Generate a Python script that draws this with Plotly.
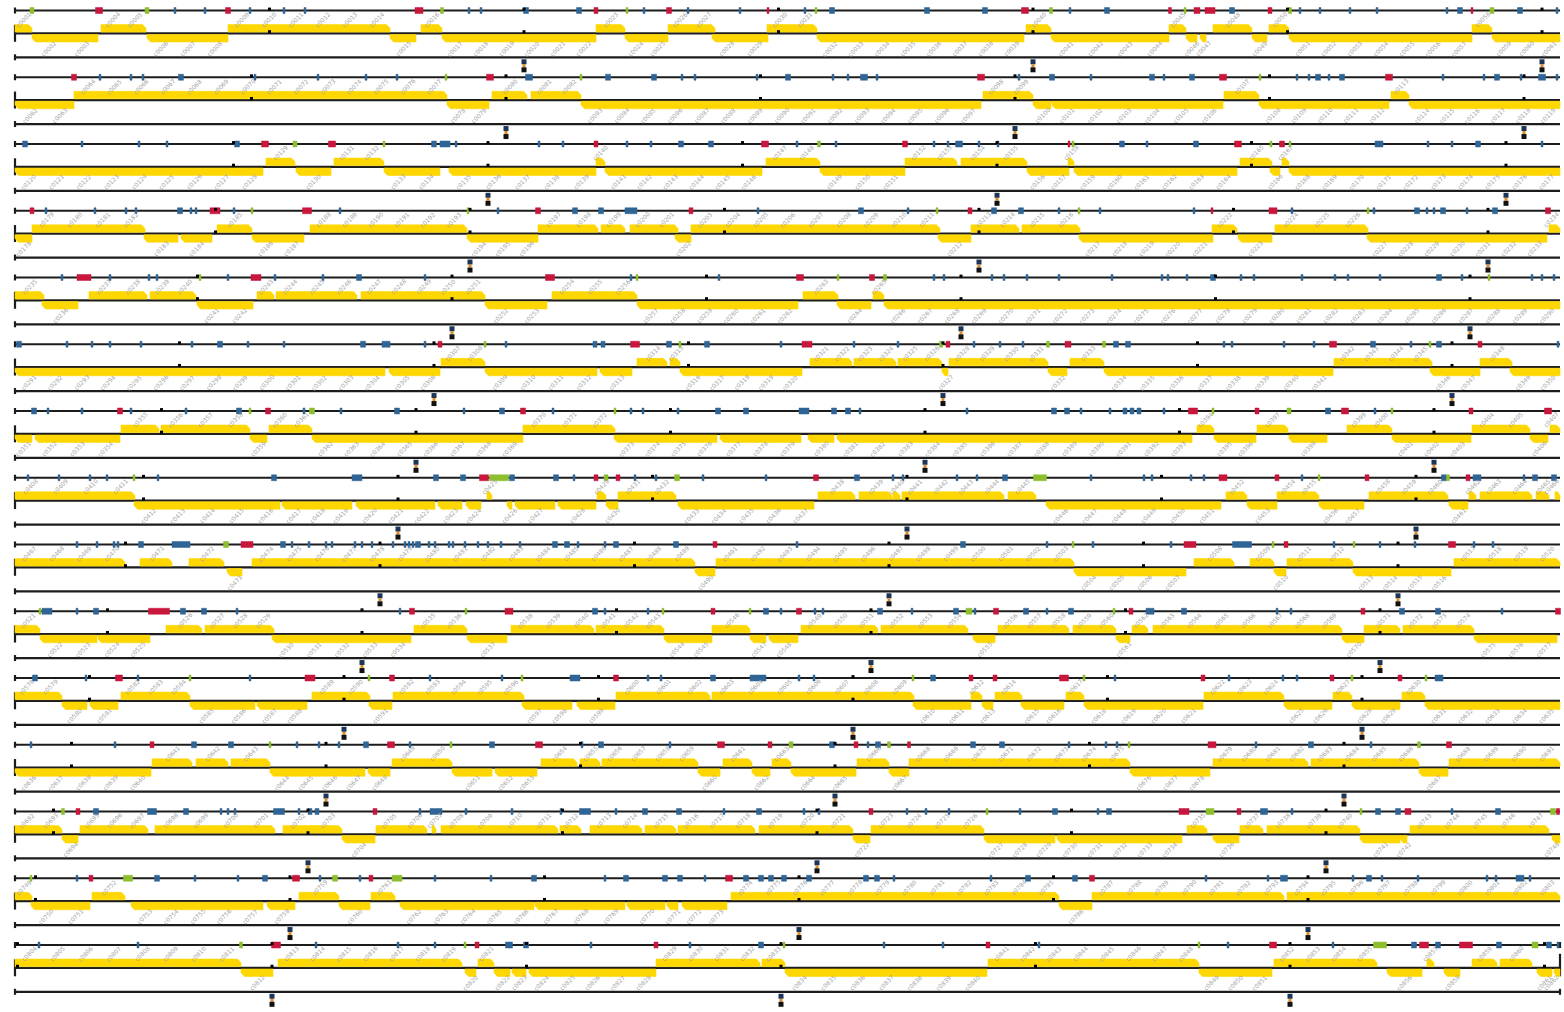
import plotly.graph_objects as go

# ---------------------------------------------------------------------------
# Sequence coordinates: the genome is wrapped into 15 rows; inside each row a
# position runs from ROW_START to ROW_END (1 unit ~ 39 bp, 20 kb = 509 units).
# ---------------------------------------------------------------------------
ROW_START, ROW_END = 15, 1560
UNITS_PER_KB = 25.45

# genes per row: (start, end, strand)
GENES_R01 = [(15,32,1),(32,98,-1),(101,146,1),(147,228,-1),(228,390,1),(390,416,-1),(421,442,1),(442,596,-1),(596,625,1),(625,668,-1),(668,715,1),(712,768,-1),(767,817,1),(817,1024,-1),(1026,1051,1),(1051,1169,-1),(1169,1186,1),(1186,1197,-1),(1200,1206,-1),(1213,1252,1),(1252,1267,-1),(1269,1289,1),(1289,1472,-1),(1472,1492,1),(1492,1560,-1)]
GENES_R02 = [(15,74,-1),(74,447,1),(447,489,-1),(492,527,1),(531,581,1),(581,981,-1),(983,1033,1),(1033,1051,-1),(1052,1223,-1),(1224,1259,1),(1259,1389,-1),(1391,1409,1),(1409,1560,-1)]
GENES_R03 = [(15,263,-1),(266,295,1),(296,331,-1),(334,384,1),(384,440,-1),(449,596,-1),(596,605,1),(605,762,-1),(766,820,1),(820,905,-1),(905,957,1),(961,1027,1),(1027,1069,-1),(1068,1074,1),(1074,1237,-1),(1240,1272,1),(1270,1280,-1),(1282,1289,1),(1289,1560,-1)]
GENES_R04 = [(15,32,-1),(32,145,1),(144,178,-1),(181,212,-1),(217,252,1),(252,304,-1),(310,467,1),(467,538,-1),(538,598,1),(601,625,1),(630,678,1),(675,691,-1),(691,940,1),(938,971,-1),(971,1019,1),(1022,1080,1),(1079,1213,-1),(1212,1237,1),(1238,1272,-1),(1275,1368,1),(1367,1547,-1),(1549,1560,1)]
GENES_R05 = [(15,44,1),(42,78,-1),(89,147,1),(150,196,1),(197,253,-1),(257,274,1),(276,357,1),(361,485,1),(485,547,-1),(552,637,1),(637,798,-1),(803,838,1),(837,871,-1),(873,884,1),(884,1560,-1)]
GENES_R06 = [(15,385,-1),(389,440,-1),(441,485,1),(485,597,-1),(600,632,-1),(637,667,1),(670,680,1),(680,802,-1),(810,852,1),(854,896,1),(898,942,1),(942,948,-1),(949,1048,1),(1048,1067,-1),(1070,1104,1),(1104,1333,-1),(1334,1432,1),(1430,1480,-1),(1480,1512,1),(1510,1560,-1)]
GENES_R07 = [(15,32,-1),(35,120,-1),(121,159,1),(161,250,1),(250,267,-1),(269,312,1),(312,523,-1),(523,615,1),(614,717,-1),(720,801,-1),(808,834,-1),(837,1192,-1),(1197,1214,1),(1214,1256,-1),(1257,1288,1),(1289,1327,-1),(1347,1392,1),(1392,1471,-1),(1472,1530,1),(1530,1548,-1),(1550,1560,1)]
GENES_R08 = [(15,135,1),(134,280,-1),(282,352,-1),(356,435,-1),(438,462,-1),(466,481,-1),(487,492,1),(507,512,-1),(515,555,-1),(558,596,-1),(597,606,1),(606,618,-1),(618,676,1),(678,814,-1),(818,855,1),(859,892,1),(893,900,1),(902,1004,1),(1008,1036,1),(1046,1221,-1),(1226,1247,1),(1247,1277,-1),(1277,1319,1),(1319,1364,-1),(1369,1448,1),(1449,1468,-1),(1469,1476,1),(1480,1532,1),(1536,1549,1),(1555,1560,1)]
GENES_R09 = [(15,125,1),(140,172,1),(189,224,1),(227,242,-1),(252,695,1),(695,715,-1),(716,1074,1),(1074,1186,-1),(1194,1234,1),(1250,1274,1),(1274,1286,-1),(1287,1353,1),(1353,1451,-1),(1454,1560,1)]
GENES_R10 = [(15,40,1),(40,97,-1),(98,150,-1),(166,202,1),(205,274,1),(272,411,-1),(414,467,1),(467,507,-1),(511,594,1),(596,664,1),(664,712,-1),(712,750,1),(750,766,-1),(769,798,-1),(801,878,1),(881,968,1),(973,995,-1),(998,1069,1),(1073,1116,1),(1116,1130,-1),(1132,1148,1),(1153,1342,1),(1342,1364,-1),(1364,1400,1),(1403,1474,1),(1474,1557,-1)]
GENES_R11 = [(15,62,1),(62,87,-1),(90,118,-1),(121,190,1),(190,255,-1),(257,307,-1),(312,370,1),(369,392,-1),(393,524,1),(522,572,-1),(577,615,-1),(616,710,1),(712,914,1),(913,971,-1),(971,982,1),(982,993,-1),(995,1022,1),(1021,1064,-1),(1066,1084,1),(1084,1203,-1),(1204,1284,1),(1284,1332,-1),(1333,1352,1),(1352,1400,-1),(1402,1425,1),(1425,1560,-1)]
GENES_R12 = [(15,151,-1),(152,192,1),(196,228,1),(231,270,1),(270,365,-1),(368,390,-1),(392,452,1),(452,492,-1),(495,537,-1),(541,577,1),(580,600,1),(602,698,1),(698,720,-1),(723,752,1),(752,770,-1),(772,791,1),(791,856,-1),(857,889,1),(889,909,-1),(909,1130,1),(1130,1210,-1),(1213,1308,1),(1311,1419,1),(1419,1448,-1),(1449,1560,1)]
GENES_R13 = [(15,62,1),(62,78,-1),(80,148,1),(155,275,1),(283,342,1),(342,375,-1),(376,427,1),(432,436,1),(441,558,1),(560,581,1),(590,642,1),(645,676,1),(678,755,1),(759,853,1),(853,870,-1),(871,984,1),(984,1055,-1),(1057,1182,-1),(1187,1207,1),(1213,1239,-1),(1240,1263,1),(1267,1360,1),(1360,1400,-1),(1400,1407,-1),(1410,1549,1),(1552,1560,-1)]
GENES_R14 = [(15,32,1),(31,90,-1),(92,125,1),(131,263,-1),(267,295,-1),(299,339,1),(339,370,-1),(371,395,1),(400,534,-1),(535,625,-1),(627,665,-1),(667,678,-1),(682,727,-1),(731,1059,1),(1059,1092,-1),(1092,1284,1),(1287,1560,1)]
GENES_R15 = [(15,241,1),(241,273,-1),(278,462,1),(465,476,-1),(478,494,1),(494,510,-1),(512,526,-1),(529,656,-1),(656,760,1),(762,785,1),(785,987,-1),(988,1199,1),(1199,1272,-1),(1274,1377,1),(1387,1422,-1),(1427,1434,1),(1444,1460,-1),(1472,1497,1),(1500,1532,1),(1537,1552,-1),(1554,1560,-1)]

# upper track features per row: (centre, length, kind)  r = red, b = blue, g = green
FEAT_R01 = [(32,4,'g'),(99,7,'r'),(147,4,'g'),(175,2,'b'),(205,2,'b'),(228,5,'r'),(250,2,'b'),(284,2,'b'),(305,2,'b'),(419,8,'r'),(442,3,'g'),(469,2,'b'),(481,2,'b'),(526,5,'b'),(579,5,'b'),(596,4,'r'),(627,2,'g'),(644,2,'b'),(669,5,'r'),(688,2,'b'),(740,2,'b'),(768,2,'r'),(805,2,'b'),(816,2,'g'),(832,5,'b'),(927,5,'b'),(985,5,'b'),(1025,7,'r'),(1051,3,'g'),(1070,2,'b'),(1107,5,'b'),(1170,3,'r'),(1185,2,'g'),(1197,6,'r'),(1210,10,'r'),(1232,5,'b'),(1270,4,'r'),(1290,3,'g'),(1300,2,'b'),(1320,2,'b'),(1350,2,'b'),(1377,2,'b'),(1447,2,'b'),(1460,5,'b'),(1472,2,'r'),(1492,4,'g'),(1520,5,'b'),(1557,2,'b')]
FEAT_R02 = [(74,5,'r'),(100,2,'b'),(131,2,'b'),(143,2,'b'),(181,5,'b'),(255,2,'b'),(318,2,'b'),(366,2,'b'),(397,2,'b'),(446,2,'g'),(490,7,'r'),(529,7,'b'),(581,2,'g'),(608,5,'b'),(654,5,'b'),(682,2,'b'),(695,2,'b'),(757,2,'b'),(788,5,'b'),(833,2,'b'),(848,2,'b'),(864,7,'b'),(877,2,'b'),(981,7,'r'),(1019,2,'b'),(1052,5,'b'),(1091,2,'b'),(1152,5,'b'),(1164,2,'b'),(1192,5,'b'),(1223,7,'r'),(1260,2,'g'),(1297,2,'b'),(1309,2,'b'),(1318,5,'b'),(1329,2,'b'),(1342,5,'b'),(1389,7,'r'),(1443,2,'b'),(1484,2,'b'),(1497,5,'b'),(1521,2,'b'),(1542,7,'b'),(1557,2,'b')]
FEAT_R03 = [(25,5,'b'),(82,2,'b'),(139,2,'b'),(167,2,'b'),(237,5,'b'),(265,7,'r'),(295,4,'g'),(332,7,'r'),(384,2,'g'),(434,5,'b'),(445,10,'b'),(456,2,'b'),(539,2,'b'),(563,2,'b'),(596,4,'r'),(627,2,'b'),(651,2,'b'),(681,5,'b'),(711,5,'b'),(765,7,'r'),(797,2,'b'),(819,3,'g'),(836,2,'b'),(905,5,'r'),(934,2,'b'),(948,2,'b'),(959,7,'b'),(979,2,'b'),(998,2,'b'),(1069,2,'r'),(1073,2,'g'),(1122,5,'b'),(1147,2,'b'),(1196,5,'b'),(1238,7,'r'),(1271,2,'g'),(1282,5,'r'),(1290,2,'g'),(1379,8,'b'),(1428,2,'b'),(1452,2,'b'),(1478,5,'b'),(1542,2,'b')]
FEAT_R04 = [(32,4,'r'),(46,2,'b'),(95,2,'b'),(126,2,'b'),(136,2,'b'),(180,5,'b'),(191,2,'b'),(196,2,'b'),(215,10,'r'),(234,2,'b'),(252,2,'g'),(307,9,'r'),(340,2,'b'),(468,2,'g'),(498,2,'b'),(538,5,'r'),(575,5,'b'),(601,5,'b'),(631,12,'b'),(691,4,'r'),(758,2,'b'),(861,5,'b'),(908,2,'b'),(937,2,'g'),(970,4,'r'),(994,5,'b'),(1021,5,'b'),(1059,2,'b'),(1079,2,'g'),(1100,2,'b'),(1194,2,'b'),(1212,2,'r'),(1273,8,'r'),(1292,2,'b'),(1368,2,'g'),(1374,2,'b'),(1417,5,'b'),(1427,2,'b'),(1434,2,'b'),(1443,5,'b'),(1467,2,'b'),(1495,5,'b'),(1548,5,'r')]
FEAT_R05 = [(62,2,'b'),(84,14,'r'),(110,2,'b'),(149,2,'b'),(157,2,'b'),(200,2,'g'),(228,2,'b'),(256,10,'r'),(275,2,'b'),(323,2,'b'),(359,5,'b'),(425,2,'b'),(550,9,'r'),(631,2,'b'),(637,2,'g'),(719,2,'b'),(800,7,'r'),(838,2,'g'),(872,5,'r'),(885,3,'g'),(934,2,'b'),(944,2,'b'),(992,2,'b'),(1004,2,'b'),(1027,2,'b'),(1059,2,'b'),(1112,2,'b'),(1162,2,'b'),(1168,2,'b'),(1187,2,'b'),(1213,5,'b'),(1241,2,'b'),(1254,2,'b'),(1302,2,'b'),(1335,2,'b'),(1348,2,'b'),(1380,2,'b'),(1439,5,'b'),(1462,2,'b'),(1489,2,'g'),(1532,2,'b'),(1542,2,'b'),(1554,2,'b')]
FEAT_R06 = [(19,5,'b'),(67,2,'b'),(92,2,'b'),(110,2,'b'),(141,2,'b'),(192,2,'b'),(220,5,'b'),(248,2,'b'),(284,2,'b'),(363,5,'b'),(386,8,'b'),(425,2,'b'),(440,4,'r'),(485,2,'g'),(506,2,'b'),(595,4,'b'),(603,4,'b'),(635,9,'r'),(669,5,'b'),(680,2,'g'),(707,5,'b'),(781,2,'b'),(807,10,'r'),(854,2,'b'),(898,2,'b'),(941,3,'g'),(948,4,'r'),(974,2,'b'),(1000,2,'b'),(1023,2,'b'),(1048,3,'g'),(1068,6,'r'),(1104,3,'g'),(1116,5,'b'),(1128,5,'b'),(1224,2,'b'),(1232,2,'b'),(1284,2,'b'),(1314,2,'b'),(1333,7,'r'),(1373,5,'b'),(1411,2,'b'),(1430,2,'g'),(1439,5,'b'),(1480,4,'r'),(1558,2,'b')]
FEAT_R07 = [(34,5,'b'),(48,2,'b'),(82,2,'b'),(120,5,'r'),(131,2,'b'),(186,2,'b'),(239,5,'b'),(250,2,'g'),(268,5,'r'),(304,2,'b'),(312,5,'g'),(341,2,'b'),(397,5,'b'),(464,2,'b'),(502,5,'b'),(523,5,'r'),(553,2,'b'),(615,2,'g'),(631,2,'b'),(643,2,'b'),(678,2,'b'),(718,5,'b'),(746,5,'b'),(804,10,'b'),(834,5,'b'),(848,5,'b'),(860,2,'b'),(967,2,'b'),(1054,5,'b'),(1067,5,'b'),(1081,2,'b'),(1110,2,'b'),(1125,4,'b'),(1132,4,'b'),(1139,4,'b'),(1164,2,'b'),(1193,9,'r'),(1213,2,'g'),(1257,4,'r'),(1289,4,'g'),(1328,5,'b'),(1345,7,'r'),(1375,2,'b'),(1392,2,'g'),(1471,4,'r'),(1548,7,'r')]
FEAT_R08 = [(28,2,'b'),(59,2,'b'),(90,2,'b'),(107,2,'b'),(134,2,'g'),(158,2,'b'),(274,5,'b'),(357,10,'b'),(436,5,'b'),(463,5,'b'),(484,9,'r'),(499,19,'g'),(512,5,'b'),(556,5,'b'),(574,2,'b'),(596,4,'r'),(606,4,'g'),(618,4,'r'),(635,2,'b'),(656,2,'b'),(677,5,'g'),(703,2,'b'),(766,2,'b'),(816,5,'r'),(857,5,'b'),(893,2,'b'),(903,2,'b'),(957,2,'b'),(977,2,'b'),(1005,5,'b'),(1040,13,'g'),(1091,2,'b'),(1144,2,'b'),(1152,2,'b'),(1191,2,'b'),(1204,2,'b'),(1223,8,'r'),(1277,4,'r'),(1302,2,'b'),(1319,2,'g'),(1367,4,'r'),(1444,5,'b'),(1448,3,'g'),(1468,4,'r'),(1477,8,'b'),(1524,2,'b'),(1535,5,'b'),(1554,5,'b')]
FEAT_R09 = [(77,2,'b'),(97,2,'b'),(114,2,'b'),(118,2,'b'),(141,5,'b'),(181,18,'b'),(226,5,'g'),(247,12,'r'),(283,5,'b'),(292,2,'b'),(309,2,'b'),(326,2,'b'),(332,2,'b'),(355,2,'b'),(362,2,'b'),(372,2,'b'),(393,2,'b'),(405,2,'b'),(409,2,'b'),(413,2,'b'),(418,5,'b'),(429,2,'b'),(435,2,'b'),(449,2,'b'),(453,2,'b'),(465,2,'b'),(478,2,'b'),(488,2,'b'),(501,2,'b'),(520,2,'b'),(555,5,'b'),(567,5,'b'),(578,2,'b'),(605,2,'b'),(616,5,'b'),(676,5,'b'),(715,4,'r'),(797,2,'b'),(963,5,'b'),(1047,2,'b'),(1073,2,'g'),(1093,2,'b'),(1171,2,'b'),(1190,12,'r'),(1242,19,'b'),(1273,2,'g'),(1286,4,'r'),(1334,2,'b'),(1354,2,'g'),(1380,2,'b'),(1415,2,'b'),(1452,7,'r'),(1474,2,'b'),(1493,2,'b')]
FEAT_R10 = [(40,2,'g'),(47,10,'b'),(77,2,'b'),(96,5,'b'),(159,21,'r'),(183,5,'b'),(204,5,'b'),(237,2,'b'),(400,2,'b'),(412,5,'r'),(466,2,'g'),(509,8,'r'),(595,5,'b'),(605,2,'b'),(648,2,'b'),(663,2,'g'),(713,4,'r'),(750,2,'g'),(766,5,'b'),(781,2,'b'),(799,5,'r'),(815,2,'b'),(823,2,'b'),(880,5,'b'),(912,2,'b'),(956,5,'b'),(969,6,'g'),(975,2,'b'),(996,5,'r'),(1026,5,'b'),(1047,2,'b'),(1071,5,'b'),(1114,2,'g'),(1131,4,'r'),(1150,8,'b'),(1184,5,'b'),(1277,2,'b'),(1291,2,'b'),(1363,4,'r'),(1402,5,'b'),(1438,5,'b'),(1502,2,'b'),(1558,5,'r')]
FEAT_R11 = [(35,5,'b'),(86,2,'b'),(119,7,'r'),(138,2,'b'),(190,2,'g'),(250,2,'b'),(310,10,'r'),(369,2,'g'),(392,5,'r'),(430,2,'b'),(502,2,'b'),(522,2,'g'),(575,10,'b'),(616,5,'r'),(648,2,'b'),(661,2,'b'),(713,5,'b'),(758,16,'b'),(799,2,'b'),(814,2,'b'),(913,2,'g'),(933,5,'b'),(971,4,'r'),(995,4,'r'),(1064,9,'r'),(1084,2,'g'),(1115,2,'b'),(1203,4,'r'),(1229,2,'b'),(1283,2,'b'),(1297,2,'b'),(1332,4,'r'),(1352,2,'g'),(1400,4,'r'),(1426,2,'g'),(1439,8,'b')]
FEAT_R12 = [(31,2,'b'),(115,2,'b'),(152,4,'r'),(194,5,'b'),(231,5,'b'),(270,2,'g'),(297,2,'b'),(319,2,'b'),(339,2,'b'),(366,5,'b'),(391,7,'r'),(410,2,'b'),(451,2,'g'),(492,5,'b'),(539,7,'r'),(582,2,'b'),(601,5,'b'),(670,2,'b'),(721,7,'r'),(770,4,'r'),(791,4,'g'),(832,5,'b'),(856,4,'r'),(868,2,'b'),(878,5,'b'),(889,3,'g'),(909,3,'r'),(973,5,'b'),(1002,5,'b'),(1069,2,'b'),(1106,2,'b'),(1117,2,'b'),(1129,2,'g'),(1212,8,'r'),(1256,2,'b'),(1311,5,'b'),(1371,2,'b'),(1419,3,'g'),(1449,5,'r')]
FEAT_R13 = [(63,3,'g'),(78,4,'r'),(96,5,'b'),(152,9,'b'),(186,5,'b'),(221,2,'b'),(228,2,'b'),(235,2,'b'),(279,11,'b'),(299,2,'b'),(310,4,'b'),(317,4,'b'),(375,4,'r'),(420,2,'b'),(436,12,'b'),(466,2,'b'),(512,2,'b'),(561,2,'b'),(585,11,'b'),(616,2,'b'),(645,5,'b'),(679,5,'b'),(724,2,'b'),(759,5,'b'),(804,2,'b'),(819,2,'b'),(871,4,'r'),(907,2,'b'),(926,2,'b'),(949,2,'b'),(987,2,'g'),(1020,2,'b'),(1055,5,'b'),(1098,2,'b'),(1109,5,'b'),(1184,10,'r'),(1210,8,'g'),(1239,4,'r'),(1264,7,'b'),(1292,2,'b'),(1361,2,'g'),(1378,5,'b'),(1398,5,'b'),(1408,6,'r'),(1452,2,'b'),(1498,5,'b'),(1553,5,'g'),(1558,3,'r')]
FEAT_R14 = [(31,2,'g'),(77,2,'b'),(91,4,'r'),(128,9,'g'),(157,5,'b'),(195,2,'b'),(238,2,'b'),(265,5,'b'),(296,7,'r'),(320,2,'b'),(335,5,'g'),(360,2,'b'),(371,4,'r'),(397,10,'g'),(435,2,'b'),(491,2,'b'),(534,5,'b'),(605,2,'b'),(626,5,'b'),(665,5,'b'),(680,5,'b'),(705,2,'b'),(729,7,'r'),(746,5,'b'),(761,5,'b'),(771,5,'b'),(784,5,'b'),(809,5,'b'),(866,5,'b'),(877,5,'b'),(894,2,'b'),(991,2,'b'),(1028,5,'b'),(1075,5,'b'),(1092,5,'r'),(1206,2,'b'),(1268,2,'b'),(1284,7,'b'),(1353,2,'b'),(1369,5,'b'),(1382,2,'b'),(1418,2,'b'),(1487,2,'b'),(1496,2,'b'),(1520,8,'b'),(1530,2,'b')]
FEAT_R15 = [(39,2,'b'),(138,2,'b'),(241,3,'g'),(276,9,'r'),(316,2,'b'),(398,2,'b'),(435,2,'b'),(465,2,'g'),(477,4,'r'),(509,7,'b'),(526,5,'b'),(591,2,'b'),(656,4,'r'),(690,2,'b'),(761,5,'b'),(784,2,'g'),(884,2,'b'),(943,2,'b'),(988,4,'r'),(1039,2,'b'),(1199,2,'g'),(1228,2,'b'),(1273,7,'r'),(1333,2,'b'),(1380,13,'g'),(1414,5,'b'),(1424,9,'r'),(1438,5,'b'),(1466,13,'r'),(1499,5,'b'),(1535,6,'g'),(1549,5,'b'),(1558,2,'b')]

# reference marks along the genome (kb)
MARKER_KB = [20,40,60,80,100,120,140,160,180,200,220,240,260,280,300,320,340,360,380,400,
             420,440,460,480,500,520,540,560,580,600,620,640,660,680,700,720,740,760,780,800,
             820,840,860,880,900]
TICK_KB = [10,20,30,40,50,60,70,80,90,100,110,120,130,140,150,160,170,180,190,200,210,220,230,240,250,
           260,270,280,290,300,310,320,330,340,350,360,370,380,390,400,410,420,430,440,450,460,470,480,490,500,
           510,520,530,540,550,560,570,580,590,600,610,620,630,640,650,660,670,680,690,700,710,720,730,740,750,
           760,770,780,790,800,810,820,830,840,850,860,870,880,890,900,910]

GENES = [GENES_R01, GENES_R02, GENES_R03, GENES_R04, GENES_R05, GENES_R06, GENES_R07, GENES_R08,
         GENES_R09, GENES_R10, GENES_R11, GENES_R12, GENES_R13, GENES_R14, GENES_R15]
FEATS = [FEAT_R01, FEAT_R02, FEAT_R03, FEAT_R04, FEAT_R05, FEAT_R06, FEAT_R07, FEAT_R08,
         FEAT_R09, FEAT_R10, FEAT_R11, FEAT_R12, FEAT_R13, FEAT_R14, FEAT_R15]
N_ROWS = len(GENES)

# ---------------------------------------------------------------------------
# layout of a row (vertical, in screen units)
PITCH = 66.75
TOP0, AXIS0, BOT0 = 10.5, 33.3, 57.3
GENE_H = 7.5
COL_GENE = '#FFD700'
COL_FEAT = {'r': '#C8163C', 'b': '#2F6496', 'g': '#8DBE2E'}
LINE_COL = '#1c1c1c'
LABEL_XMAX = ROW_END - 9


def to_row(kb):
    u = kb * UNITS_PER_KB
    span = ROW_END - ROW_START
    r = int(u // span)
    return r, ROW_START + (u - r * span)


fig = go.Figure()

# --- backbone lines -----------------------------------------------------
lx, ly = [], []
ex, ey = [], []
for r in range(N_ROWS):
    top, ax, bot = TOP0 + r * PITCH, AXIS0 + r * PITCH, BOT0 + r * PITCH
    for y in (top, ax, bot):
        lx += [ROW_START, ROW_END, None]
        ly += [y, y, None]
    ex += [ROW_START, ROW_START, None, ROW_START, ROW_START, None, ROW_START, ROW_START, None]
    ey += [top - 3, top + 3, None, ax - 8.5, ax + 8.5, None, bot - 3, bot + 3, None]
    if r == N_ROWS - 1:
        ex += [ROW_END, ROW_END, None, ROW_END, ROW_END, None, ROW_END, ROW_END, None]
        ey += [top - 3, top + 3, None, ax - 14, ax + 8.5, None, bot - 3, bot + 3, None]

fig.add_trace(go.Scatter(x=lx, y=ly, mode='lines', line=dict(color=LINE_COL, width=2.2),
                         hoverinfo='skip'))
fig.add_trace(go.Scatter(x=ex, y=ey, mode='lines', line=dict(color=LINE_COL, width=2.2),
                         hoverinfo='skip'))

# --- genes ----------------------------------------------------------------
gx, gy = [], []
labels = []
idx = 0
for r, genes in enumerate(GENES):
    ax = AXIS0 + r * PITCH
    for s, e, strand in genes:
        tip = min(3.5, (e - s) / 2)
        if strand > 0:
            y_in, y_out = ax - 1.2, ax - 1.2 - GENE_H
            gx += [s, s, e - tip, e, e, s, None]
            gy += [y_in, y_out, y_out, (y_in + y_out) / 2, y_in, y_in, None]
        else:
            y_in, y_out = ax + 1.2, ax + 1.2 + GENE_H
            gx += [e, e, s + tip, s, s, e, None]
            gy += [y_in, y_out, y_out, (y_in + y_out) / 2, y_in, y_in, None]
        n = max(1, round((e - s) / 27))
        step = (e - s) / n
        for k in range(n):
            idx += 1
            xc = min(s + step * (k + 0.5), LABEL_XMAX)
            labels.append((xc, ax - 14 if strand > 0 else ax + 15, f"c{idx:04d}"))

fig.add_trace(go.Scatter(x=gx, y=gy, mode='lines', fill='toself', fillcolor=COL_GENE,
                         line=dict(color=COL_GENE, width=0.6), hoverinfo='skip'))

# --- upper track features ------------------------------------------------
for kind, col in COL_FEAT.items():
    fx, fy = [], []
    for r, feats in enumerate(FEATS):
        top = TOP0 + r * PITCH
        for c, ln, k in feats:
            if k != kind:
                continue
            x0, x1 = c - ln / 2, c + ln / 2
            fx += [x0, x1, x1, x0, x0, None]
            fy += [top - 3, top - 3, top + 3, top + 3, top - 3, None]
    fig.add_trace(go.Scatter(x=fx, y=fy, mode='lines', fill='toself', fillcolor=col,
                             line=dict(color=col, width=0.5), hoverinfo='skip'))

# --- scale ticks (dots) on axis and upper line ---------------------------
tx, ty = [], []
for kb in TICK_KB:
    r, x = to_row(kb)
    if r >= N_ROWS:
        continue
    tx += [x, x]
    ty += [AXIS0 + r * PITCH - 1.6, TOP0 + r * PITCH - 1.4]
fig.add_trace(go.Scatter(x=tx, y=ty, mode='markers',
                         marker=dict(symbol='square', size=3, color='#000000', line=dict(width=0)),
                         hoverinfo='skip'))

# --- reference markers below the lower line -------------------------------
m1x, m1y, m2x, m2y, m3x, m3y = [], [], [], [], [], []
for kb in MARKER_KB:
    r, x = to_row(kb)
    if r >= N_ROWS:
        continue
    bot = BOT0 + r * PITCH
    m1x.append(x); m1y.append(bot + 4.5)
    m2x.append(x); m2y.append(bot + 8.5)
    m3x.append(x); m3y.append(bot + 12.5)
fig.add_trace(go.Scatter(x=m1x, y=m1y, mode='markers',
                         marker=dict(symbol='square', size=5, color='#1d3557', line=dict(width=0)),
                         hoverinfo='skip'))
fig.add_trace(go.Scatter(x=m2x, y=m2y, mode='markers',
                         marker=dict(symbol='square', size=3, color='#E08A1E', line=dict(width=0)),
                         hoverinfo='skip'))
fig.add_trace(go.Scatter(x=m3x, y=m3y, mode='markers',
                         marker=dict(symbol='square', size=5, color='#111111', line=dict(width=0)),
                         hoverinfo='skip'))

# --- gene labels -----------------------------------------------------------
annotations = [dict(x=x, y=y, xref='x', yref='y', text=t, showarrow=False, textangle=-45,
                    font=dict(family='DejaVu Sans', size=6, color='#a6a6a6'))
               for x, y, t in labels]

fig.update_layout(
    width=1564, height=1012,
    margin=dict(l=0, r=0, t=0, b=0),
    paper_bgcolor='white', plot_bgcolor='white',
    showlegend=False,
    xaxis=dict(range=[0, 1564], visible=False, fixedrange=True),
    yaxis=dict(range=[1012, 0], visible=False, fixedrange=True),
    annotations=annotations,
)

fig.write_html("out.html")
